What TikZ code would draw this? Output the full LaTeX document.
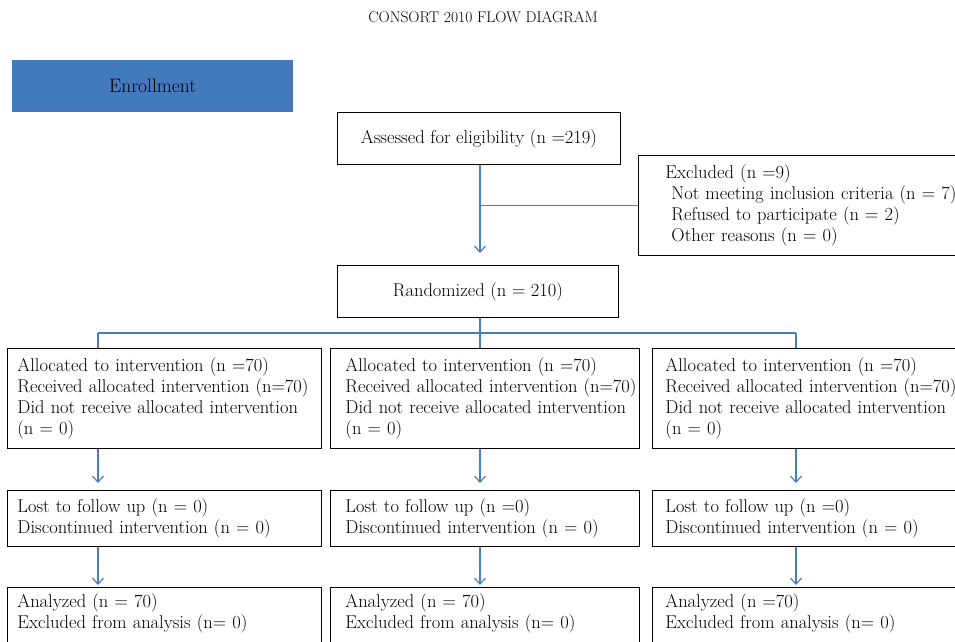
\documentclass[tikz,border=0pt]{standalone}
\usetikzlibrary{calc, positioning}
\usetikzlibrary{arrows.meta, bending}

\definecolor{enrolblue}{RGB}{67,121,189}
\definecolor{linkblue}{RGB}{74,126,187}

\begin{document}
\begin{tikzpicture}[x=1pt, y=-1pt,
    box/.style={draw, line width=0.9pt, align=left, anchor=north west,
      inner xsep=10pt, inner ysep=0pt, font=\fontsize{18.5}{20.8}\selectfont},
    link/.style={draw=linkblue, line width=1.2pt},
    arr/.style={link, -{Straight Barb[length=6pt, width=11pt]}}]
  \useasboundingbox (0,0) rectangle (955,641);
  \clip (0,0) rectangle (955,641);

  \node (title) at (483,17) {\fontsize{15.5}{17}\selectfont CONSORT 2010 FLOW DIAGRAM};
  \node[fill=enrolblue, anchor=north west, minimum width=281pt, minimum height=52pt,
    font=\fontsize{19.5}{21}\selectfont] (enrol) at (12,60) {Enrollment};

  % screening
  \node[box, minimum width=283pt, minimum height=52pt, align=center] (assess) at (337,112)
    {Assessed for eligibility (n =219)};
  \node[box, inner xsep=27pt, text width=300pt, minimum height=100pt] (excl) at (638,155)
    {Excluded (n =9)\\
     \hspace*{6pt}Not meeting inclusion criteria (n = 7)\\
     \hspace*{6pt}Refused to participate (n = 2)\\
     \hspace*{6pt}Other reasons (n = 0)};
  \node[box, minimum width=281pt, minimum height=52pt, align=center] (rand) at (337,265)
    {Randomized (n = 210)};

  % allocation
  \node[box, text width=294pt, minimum height=100pt] (allocL) at (7,348)
    {Allocated to intervention (n =70)\\ \mbox{Received allocated intervention (n=70)}\\
     \mbox{Did not receive allocated intervention}\\ (n = 0)};
  \node[box, inner xsep=15pt, text width=279pt, minimum height=100pt] (allocM) at (330,348)
    {Allocated to intervention (n =70)\\ \mbox{Received allocated intervention (n=70)}\\
     \mbox{Did not receive allocated intervention}\\ (n = 0)};
  \node[box, inner xsep=13pt, text width=290pt, minimum height=100pt] (allocR) at (652,348)
    {Allocated to intervention (n =70)\\ \mbox{Received allocated intervention (n=70)}\\
     \mbox{Did not receive allocated intervention}\\ (n = 0)};

  % follow up
  \node[box, text width=294pt, minimum height=56pt] (lostL) at (7,490)
    {Lost to follow up (n = 0)\\ Discontinued intervention (n = 0)};
  \node[box, inner xsep=15pt, text width=279pt, minimum height=56pt] (lostM) at (330,490)
    {Lost to follow up (n =0)\\ Discontinued intervention (n = 0)};
  \node[box, inner xsep=13pt, text width=290pt, minimum height=56pt] (lostR) at (652,490)
    {Lost to follow up (n =0)\\ Discontinued intervention (n = 0)};

  % analysis
  \node[box, inner ysep=6pt, text width=294pt, text depth=50pt] (analL) at (7,587)
    {Analyzed (n = 70)\\ Excluded from analysis (n= 0)};
  \node[box, inner ysep=6pt, inner xsep=15pt, text width=279pt, text depth=50pt] (analM) at (330,587)
    {Analyzed (n = 70)\\ Excluded from analysis (n= 0)};
  \node[box, inner ysep=6pt, inner xsep=13pt, text width=290pt, text depth=50pt] (analR) at (652,587)
    {Analyzed (n =70)\\ Excluded from analysis (n= 0)};

  % connectors
  \coordinate (split) at (480,333);
  \coordinate (jl) at (98,333);
  \coordinate (jr) at (796,333);

  \draw[arr, shorten >=12pt] (assess.south -| split) -- (rand.north -| split);
  \draw[link] (split |- excl.west) -- (excl.west);
  \draw[link] (rand.south -| split) -- (split);
  \draw[link] (jl) -- (jr);
  \draw[link] (jl) -- (jl |- allocL.north);
  \draw[link] (split) -- (split |- allocM.north);
  \draw[link] (jr) -- (jr |- allocR.north);

  \draw[arr, shorten >=7pt] (jl |- allocL.south) -- (jl |- lostL.north);
  \draw[arr, shorten >=7pt] (split |- allocM.south) -- (split |- lostM.north);
  \draw[arr, shorten >=7pt] (jr |- allocR.south) -- (jr |- lostR.north);
  \draw[arr, shorten >=2pt] (jl |- lostL.south) -- (jl |- analL.north);
  \draw[arr, shorten >=2pt] (split |- lostM.south) -- (split |- analM.north);
  \draw[arr, shorten >=2pt] (jr |- lostR.south) -- (jr |- analR.north);
\end{tikzpicture}
\end{document}
